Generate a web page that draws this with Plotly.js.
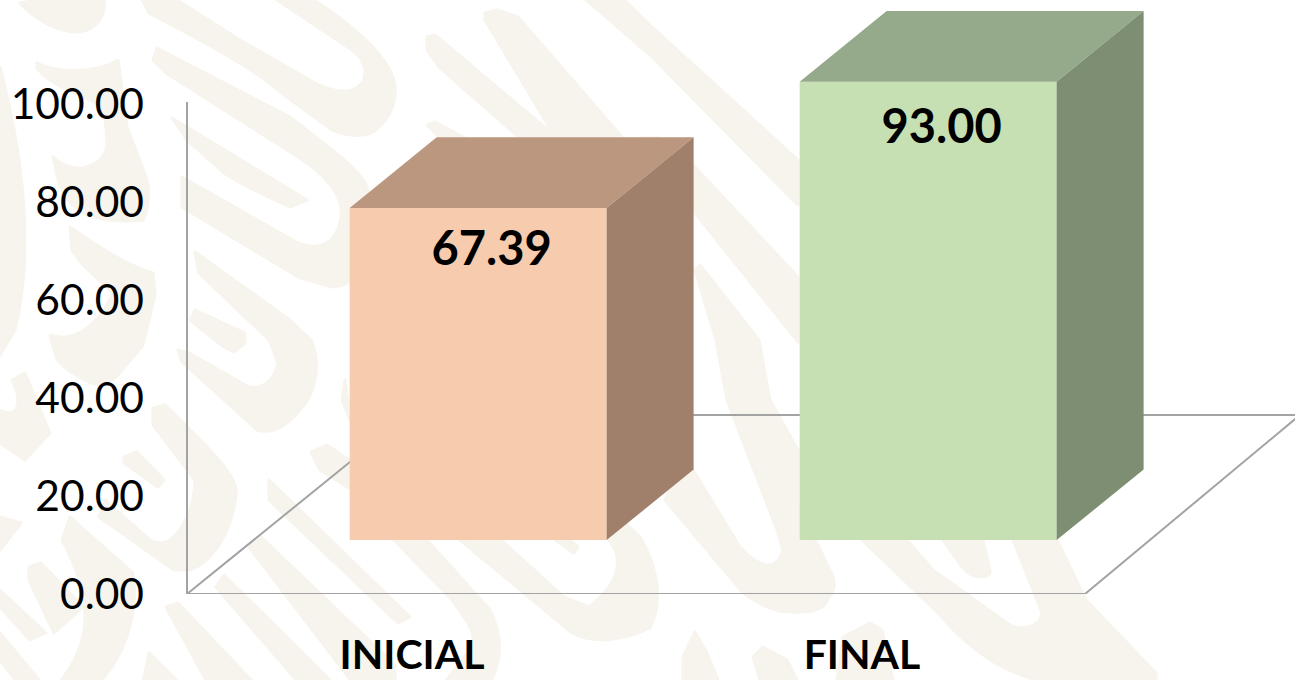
<!DOCTYPE html>
<html>
<head>
<meta charset="utf-8">
<script src="https://cdn.plot.ly/plotly-3.0.1.min.js"></script>
<style>html,body{margin:0;padding:0;background:#fff;overflow:hidden}#chart{width:1295px;height:680px}</style>
</head>
<body>
<div id="chart"></div>
<script>
const categories = ["INICIAL", "FINAL"];
const values = [67.39, 93.00];
const tickValues = [0, 20, 40, 60, 80, 100];
const tickLabels = ["0.00", "20.00", "40.00", "60.00", "80.00", "100.00"];
const frontColors = ["#f7cbad", "#c6e0b4"];
const topColors = ["#bc977f", "#95aa8a"];
const sideColors = ["#a07f6b", "#7e8e72"];

// pseudo-3D projection constants
const floorBase = 11, depthX = 0.1933, depthY = 14.4, barWidth = 0.571, barOffset = -0.1385, frontScale = 1.006;
const labelDrop = [9.2, 10.1];
const pxPerCat = 450, pxPerUnit = 4.9, originPx = 412;
const gridColor = "#a3a3a3";

// decorative background watermark (not data)
const blobs = [
 "M20 3C35 20 60 33 78 32C98 30 106 15 104 -2L50 -2Z",
 "M141 -2L149 13C190 35 250 65 280 92L332 130C350 138 370 137 378 128C392 115 398 100 394 80C385 50 345 20 311 -2L274 -2L352 50C368 62 368 80 358 87C345 95 330 90 315 83L240 40L174 -2Z",
 "M157 48L290 117C325 145 355 165 365 183C375 205 372 230 365 250C358 275 350 287 332 287L298 277L182 207L182 177L298 243C315 250 330 245 336 233C345 215 342 200 332 187C320 172 310 165 298 157L166 73L153 60Z",
 "M172 118L307 200L290 207C265 195 245 187 224 173L187 140Z",
 "M0 67C22 150 35 250 15 330L0 355Z",
 "M37 63C55 72 95 75 118 60L127 127L147 180C150 195 148 210 143 220C130 222 100 222 83 213C70 205 58 190 55 165L53 157C62 165 72 169 83 168C98 165 107 155 107 143C107 125 105 115 100 105C80 95 50 85 37 68Z",
 "M70 227C95 245 125 265 153 273L155 295L143 345L116 377C105 385 98 385 91 383C75 375 62 368 56 357L50 335C70 342 95 332 113 293C100 280 80 265 72 250Z",
 "M195 252L290 320L311 340C322 365 315 395 300 410C285 428 270 434 257 430L182 362L178 350L189 353L249 387C262 390 275 380 278 363L269 340L199 273Z",
 "M195 310L245 333L245 343L234 352L224 347L190 320Z",
 "M427 37L435 35L560 140L522 140L439 67L427 50Z",
 "M485 13L497 10L518 17L622 137L555 137L485 20Z",
 "M584 -2L622 -2L650 25L798 160L798 205L650 55Z",
 "M427 125L435 122L465 138L440 138Z",
 "M640 138L660 138L695 167L798 277L798 342L695 213L640 150Z",
 "M695 270L716 340L727 400L777 530L783 550C780 560 775 566 767 565C755 563 748 555 740 547L693 470L680 460L665 500L743 593C760 605 775 612 790 612C810 613 825 610 827 600C835 590 835 585 833 577L798 503L798 450L770 400L759 340L700 265Z",
 "M862 540L938 613C970 650 1000 672 1045 682L1156 682L1156 673L1086 600L1057 540L1013 540L1042 613C1040 628 1020 632 1007 623L933 570L907 540Z",
 "M943 540L962 567C968 574 975 577 980 577C988 577 991 574 990 570L983 540Z",
 "M683 680L683 657L695 632L707 653L718 680Z",
 "M753 657L763 647L787 660L797 680L760 680Z",
 "M843 637L870 623L882 630L893 680L837 680Z",
 "M460 540L572 633C595 645 625 640 650 628C662 605 660 570 640 537L622 520L609 540C625 560 618 585 589 607L564 597L501 540Z",
 "M555 540L574 553L578 547L570 540Z",
 "M12 380L25 373L50 433L25 460L0 443L0 410C20 420 22 400 12 380Z",
 "M153 408L165 405C200 440 240 475 236 495C232 530 215 560 190 570L174 570L99 517L105 500L150 540C175 555 195 510 195 480L153 425Z",
 "M124 457L137 452L164 480L158 487L124 463Z",
 "M311 452L327 445L352 462L352 490L320 470Z",
 "M269 480L410 617L398 623L269 500Z",
 "M249 547L261 537L395 665L395 682L352 682Z",
 "M394 540L427 540L490 610C505 640 500 665 490 682L445 682L470 650C478 635 470 625 452 600Z",
 "M216 587L224 575L332 682L298 682Z",
 "M166 607L178 603L253 682L207 682Z",
 "M143 682L149 653L178 682Z",
 "M62 540L70 517L133 573C140 620 120 660 100 682L60 682C85 650 100 610 62 540Z",
 "M29 567L41 563L83 607L54 633L29 580Z",
 "M0 590L46 633L30 640L0 607Z",
 "M0 633L41 682L17 682L0 660Z",
 "M0 517L21 523L0 550Z",
 "M345 380L342 400L350 420Z"
];
const svg = '<svg xmlns="http://www.w3.org/2000/svg" width="1295" height="680" viewBox="0 0 1295 680"><g fill="#f6f4ed" stroke="#f6f4ed" stroke-width="3" stroke-linejoin="round">'
  + blobs.map(d => '<path d="' + d + '"/>').join('') + '</g></svg>';
const watermark = 'data:image/svg+xml;base64,' + btoa(svg);

const xOfPx = px => (px - originPx) / pxPerCat;
const idx = categories.map((_, i) => i);
const tops = values.map(v => floorBase + v * frontScale);

const faces = [];
idx.forEach(i => {
  const l = i + barOffset, r = l + barWidth, t = tops[i], b = floorBase;
  faces.push({type:"scatter",mode:"lines",fill:"toself",fillcolor:topColors[i],line:{width:0,color:topColors[i]},hoverinfo:"skip",
    x:[l,r,r+depthX,l+depthX,l],y:[t,t,t+depthY,t+depthY,t]});
  faces.push({type:"scatter",mode:"lines",fill:"toself",fillcolor:sideColors[i],line:{width:0,color:sideColors[i]},hoverinfo:"skip",
    x:[r,r+depthX,r+depthX,r,r],y:[t,t+depthY,b+depthY,b,t]});
});

const front = {type:"bar",x:idx,y:values.map(v=>v*frontScale),base:floorBase,width:barWidth,offset:barOffset,
  marker:{color:frontColors,line:{width:0}},customdata:values,hovertemplate:"%{customdata:.2f}<extra></extra>"};

const labels = {type:"scatter",mode:"text",x:idx.map(i=>i+barOffset+barWidth/2+0.03),y:tops.map((t,i)=>t-labelDrop[i]),
  text:values.map(v=>v.toFixed(2)),textposition:"middle center",hoverinfo:"skip",
  textfont:{family:"Lato, sans-serif",size:47,color:"#000",weight:700}};

const line = (x0,y0,x1,y1) => ({type:"line",xref:"x",yref:"y",layer:"below",x0,y0,x1,y1,line:{color:gridColor,width:2}});
const backY = (594-415)/pxPerUnit;
const shapes = [
  line(xOfPx(187),0,xOfPx(187),100.4),
  line(xOfPx(187),0,xOfPx(1085),0),
  line(xOfPx(187),0,xOfPx(408),backY),
  line(xOfPx(1085),0,xOfPx(1300),backY),
  line(xOfPx(693),backY,xOfPx(800),backY),
  line(xOfPx(1142),backY,xOfPx(1300),backY)
];

const layout = {
  width:1295,height:680,margin:{l:0,r:0,t:0,b:0},paper_bgcolor:"#fff",plot_bgcolor:"rgba(0,0,0,0)",showlegend:false,
  images:[{source:watermark,xref:"paper",yref:"paper",x:0,y:1,sizex:1,sizey:1,sizing:"stretch",xanchor:"left",yanchor:"top",layer:"below"}],
  xaxis:{domain:[145/1295,1],range:[xOfPx(145),xOfPx(1295)],tickmode:"array",tickvals:idx,ticktext:categories,ticks:"",
    showgrid:false,zeroline:false,showline:false,ticklabelstandoff:33,tickfont:{family:"Lato, sans-serif",size:41,color:"#000",weight:700}},
  yaxis:{domain:[86/680,1],range:[0,594/pxPerUnit],tickmode:"array",tickvals:tickValues,ticktext:tickLabels,ticks:"",
    showgrid:false,zeroline:false,showline:false,tickfont:{family:"Lato, sans-serif",size:42.5,color:"#000"}},
  shapes
};
Plotly.newPlot("chart",[front,...faces,labels],layout,{displayModeBar:false,responsive:false});
</script>
</body>
</html>
